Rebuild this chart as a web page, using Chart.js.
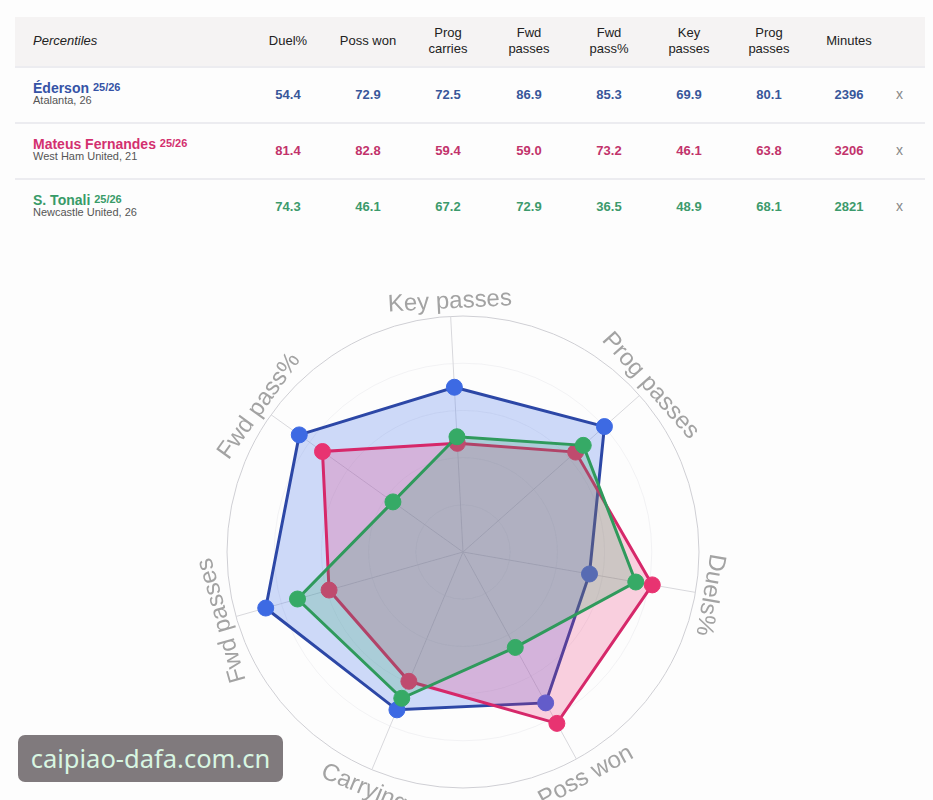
<!DOCTYPE html>
<html>
<head>
<meta charset="utf-8">
<script src="https://cdn.jsdelivr.net/npm/chart.js@4.4.1/dist/chart.umd.min.js"></script>
<style>
  body {
    margin: 0;
    width: 933px;
    height: 800px;
    overflow: hidden;
    background: #fdfdfd;
    font-family: "Liberation Sans", Arial, Helvetica, sans-serif;
    position: relative;
  }
  .cell {
    position: absolute;
    text-align: center;
    width: 80px;
  }
  .head {
    font-size: 13px;
    color: #222;
    line-height: 16px;
  }
  .val {
    font-size: 13px;
    font-weight: bold;
  }
  #radar {
    position: absolute;
    left: 0;
    top: 260px;
  }
  .mark {
    position: absolute;
    left: 18px;
    top: 735px;
    width: 265px;
    height: 47px;
    border-radius: 7px;
    background: #807a7d;
    color: #d8f6e2;
    font-family: "Noto Sans", "Open Sans", sans-serif;
    font-size: 25.5px;
    line-height: 47px;
    text-align: center;
  }
</style>
</head>
<body>
<div id="table"></div>
<canvas id="radar" width="933" height="560"></canvas>
<div class="mark">caipiao-dafa.com.cn</div>
<script>
const players = ["Éderson", "Mateus Fernandes", "S. Tonali"];
const clubs = ["Atalanta, 26", "West Ham United, 21", "Newcastle United, 26"];
const season = "25/26";

const duelPct = [54.4, 81.4, 74.3];
const possWon = [72.9, 82.8, 46.1];
const progCarries = [72.5, 59.4, 67.2];
const fwdPasses = [86.9, 59.0, 72.9];
const fwdPassPct = [85.3, 73.2, 36.5];
const keyPasses = [69.9, 46.1, 48.9];
const progPasses = [80.1, 63.8, 68.1];
const minutes = [2396, 3206, 2821];

const radarLabels = ["Key passes", "Prog passes", "Duels%", "Poss won", "Carrying", "Fwd passes", "Fwd pass%"];

const nameColors = ["#3553a6", "#d3306f", "#389b68"];
const valueColors = ["#38579a", "#c2336b", "#3c9a6c"];
const lineColors = ["#2c47a6", "#d6286a", "#2f9a5c"];
const pointColors = ["#3d6ae3", "#e83371", "#36aa66"];
const fillColors = ["rgba(65,110,235,0.25)", "rgba(235,45,115,0.22)", "rgba(45,165,100,0.22)"];

// ---- table ----
const table = document.getElementById("table");
const colX = [288, 368, 448, 529, 609, 689, 769, 849];
const headers = ["Duel%", "Poss won", "Prog<br>carries", "Fwd<br>passes", "Fwd<br>pass%", "Key<br>passes", "Prog<br>passes", "Minutes"];
const columns = [duelPct, possWon, progCarries, fwdPasses, fwdPassPct, keyPasses, progPasses, minutes];
const rowY = [95, 151, 207];

let html = '<div style="position:absolute;left:15px;top:17px;width:910px;height:49px;background:#f5f3f3;"></div>';
html += '<div style="position:absolute;left:33px;top:33px;font-size:13px;font-style:italic;color:#222;">Percentiles</div>';
headers.forEach((h, i) => {
  const lines = h.split("<br>").length;
  html += `<div class="cell head" style="left:${colX[i] - 40}px;top:${41 - lines * 8}px;">${h}</div>`;
});
[66, 122, 178].forEach(y => {
  html += `<div style="position:absolute;left:15px;top:${y}px;width:910px;height:2px;background:#ececf0;"></div>`;
});
players.forEach((p, r) => {
  const y = rowY[r];
  html += `<div style="position:absolute;left:33px;top:${y - 15}px;font-size:14px;font-weight:bold;color:${nameColors[r]};white-space:nowrap;">${p} <span style="font-size:11px;vertical-align:2px;">${season}</span></div>`;
  html += `<div style="position:absolute;left:33px;top:${y - 1}px;font-size:11px;color:#555;white-space:nowrap;">${clubs[r]}</div>`;
  columns.forEach((col, c) => {
    const v = c === columns.length - 1 ? String(col[r]) : col[r].toFixed(1);
    html += `<div class="cell val" style="left:${colX[c] - 40}px;top:${y - 8}px;color:${valueColors[r]};">${v}</div>`;
  });
  html += `<div style="position:absolute;left:896px;top:${y - 9}px;font-size:14px;color:#888;">x</div>`;
});
table.innerHTML = html;

// ---- radar ----
function radarValues(r) {
  return [keyPasses[r], progPasses[r], duelPct[r], possWon[r], progCarries[r], fwdPasses[r], fwdPassPct[r]];
}

const rotatedLabels = {
  id: "rotatedLabels",
  afterDraw(chart) {
    const scale = chart.scales.r;
    const ctx = chart.ctx;
    ctx.save();
    ctx.font = '24px "Liberation Sans", Arial, sans-serif';
    ctx.fillStyle = "#a3a3a3";
    ctx.textAlign = "center";
    chart.data.labels.forEach((label, i) => {
      const angle = scale.getIndexAngle(i);
      const flip = Math.cos(angle) < -0.5;
      const pos = scale.getPointPosition(i, scale.drawingArea + 8);
      ctx.save();
      ctx.translate(pos.x, pos.y);
      ctx.rotate(flip ? angle - Math.PI : angle);
      ctx.textBaseline = flip ? "top" : "alphabetic";
      ctx.fillText(label, 0, 0);
      ctx.restore();
    });
    ctx.restore();
  }
};

new Chart(document.getElementById("radar"), {
  type: "radar",
  data: {
    labels: radarLabels,
    datasets: players.map((p, r) => ({
      label: p,
      data: radarValues(r),
      borderColor: lineColors[r],
      backgroundColor: fillColors[r],
      pointBackgroundColor: pointColors[r],
      pointBorderColor: pointColors[r],
      pointRadius: 8,
      pointBorderWidth: 1,
      borderWidth: 3,
      fill: true,
      order: 2 - r,
    })),
  },
  options: {
    responsive: false,
    animation: false,
    layout: {
      padding: { left: 227, right: 234, top: 56, bottom: 32 },
    },
    plugins: {
      legend: { display: false },
      tooltip: { enabled: false },
    },
    scales: {
      r: {
        min: 0,
        max: 100,
        startAngle: -3,
        ticks: { display: false, stepSize: 20 },
        pointLabels: { display: false },
        grid: {
          circular: true,
          color: (ctx) => (ctx.tick && ctx.tick.value === 100 ? "#cfcfd4" : "rgba(120,120,140,0.08)"),
          lineWidth: 1,
        },
        angleLines: { color: "#d8d8dc", lineWidth: 1 },
      },
    },
  },
  plugins: [rotatedLabels],
});
</script>
</body>
</html>
